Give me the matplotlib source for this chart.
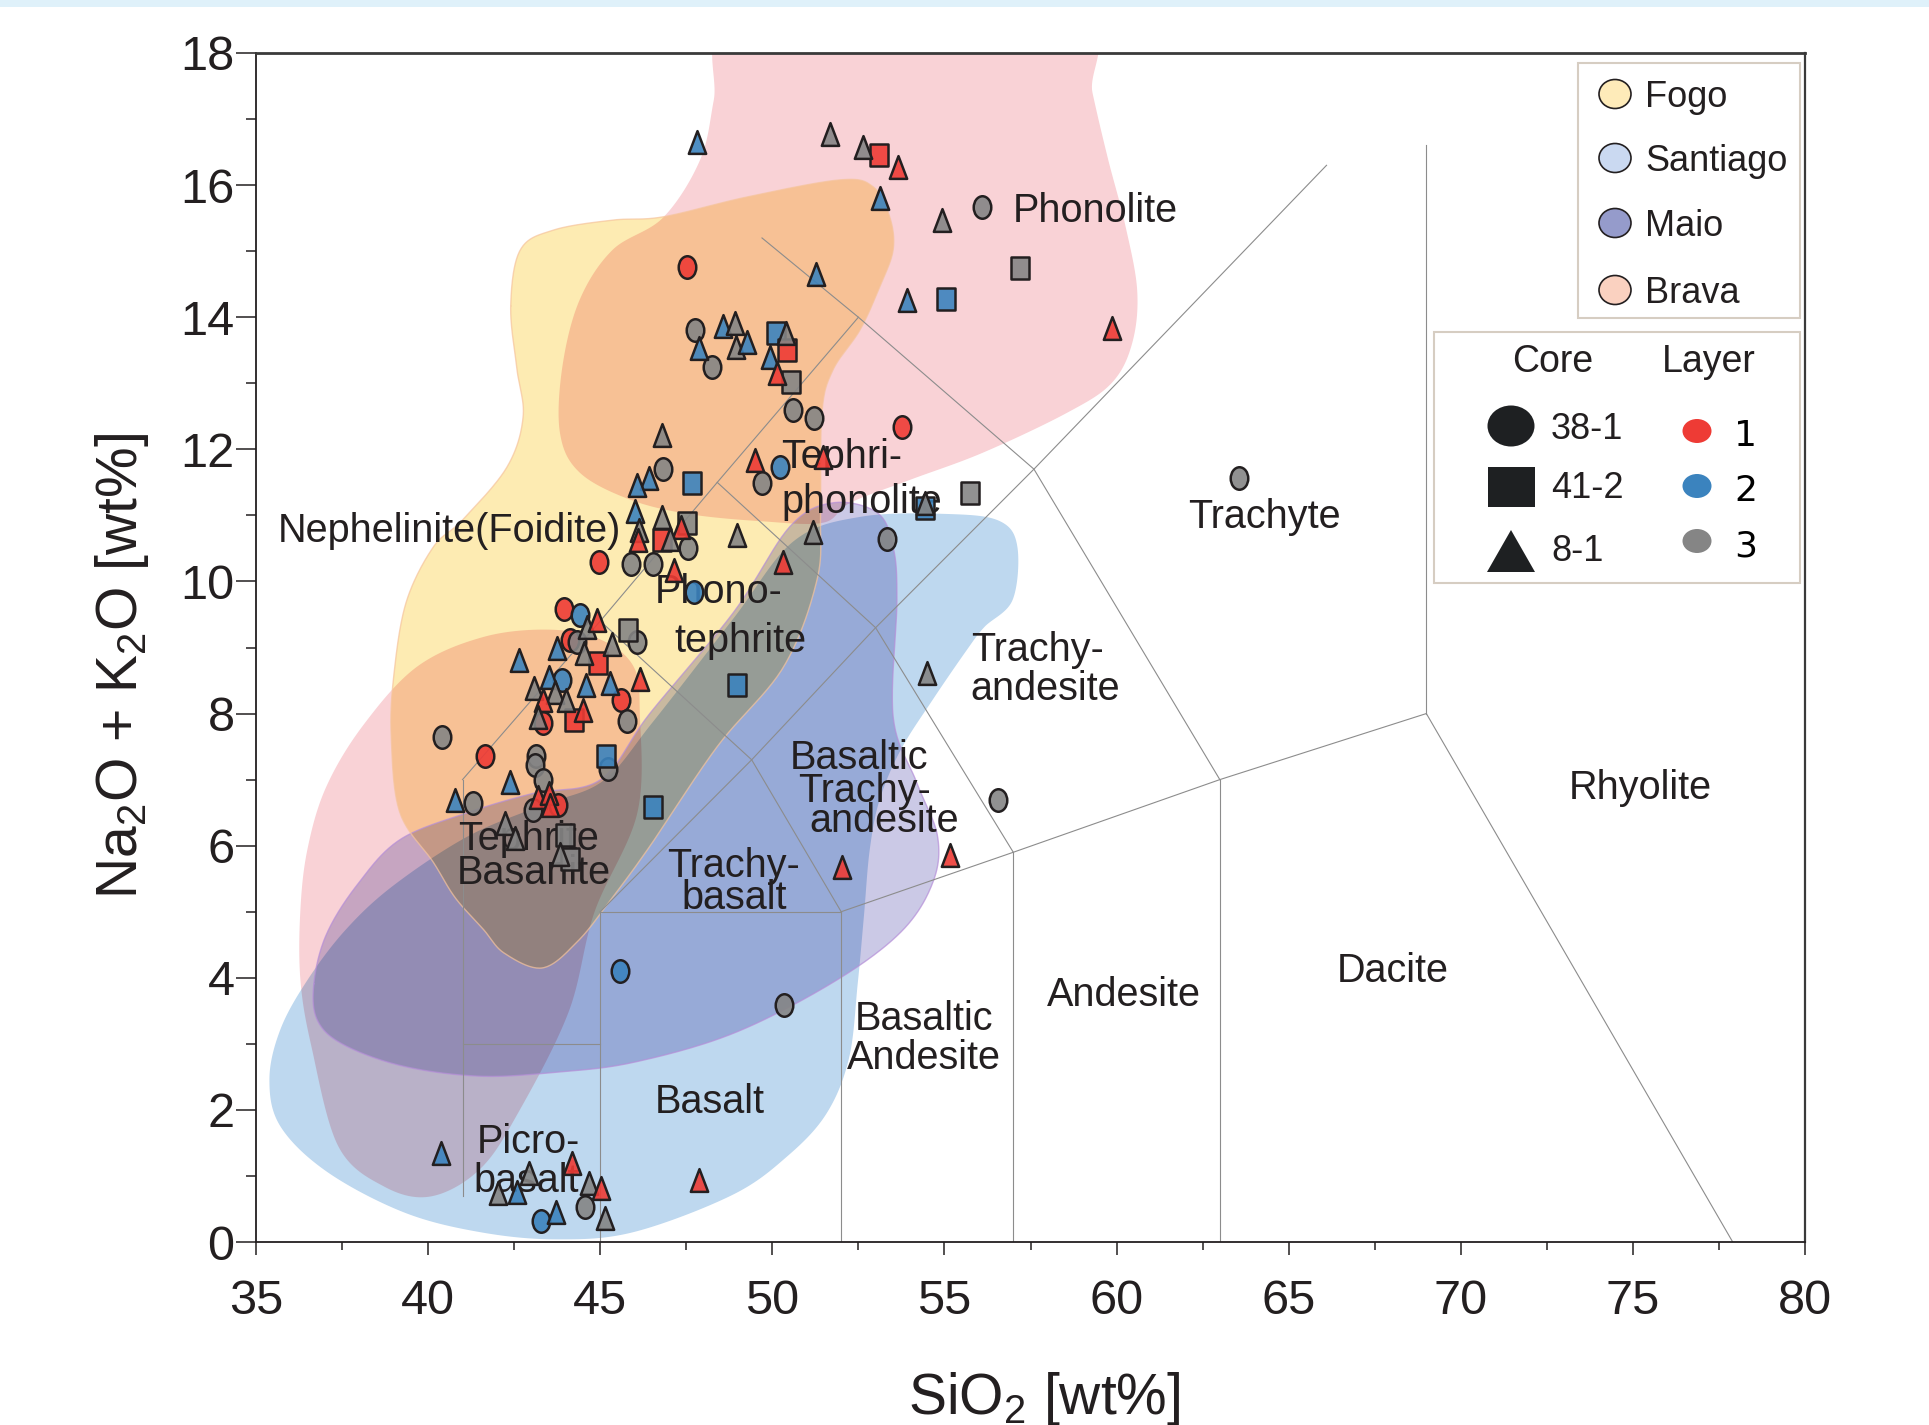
import numpy as np
import matplotlib
matplotlib.use("Agg")
import matplotlib.pyplot as plt
from matplotlib.path import Path
from matplotlib.patches import Rectangle, Ellipse, Polygon
from matplotlib.figure import Figure
from matplotlib.backends.backend_agg import FigureCanvasAgg
from matplotlib.colors import to_rgb

plt.rcParams['font.family'] = ['Liberation Sans', 'DejaVu Sans']
plt.rcParams['mathtext.fontset'] = 'custom'
plt.rcParams['mathtext.rm'] = 'Liberation Sans'
plt.rcParams['mathtext.it'] = 'Liberation Sans:italic'
plt.rcParams['mathtext.bf'] = 'Liberation Sans:bold'

# ---------------- data: samples (SiO2, Na2O+K2O, layer) ----------------
c381_x = [47.51, 47.74, 48.26, 50.59, 51.21, 46.81, 50.22, 49.69, 53.76, 56.08, 53.32, 47.56,
          44.97, 45.89, 46.52, 47.71, 43.95, 44.41, 44.12, 44.32, 46.08, 43.88, 45.59, 43.35,
          45.77, 40.40, 41.65, 43.13, 43.11, 45.24, 43.35, 41.31, 43.78, 43.04, 63.55, 56.57,
          45.58, 50.35, 44.56, 43.28]
c381_y = [14.76, 13.81, 13.25, 12.59, 12.47, 11.70, 11.74, 11.49, 12.34, 15.67, 10.65, 10.50,
          10.30, 10.26, 10.27, 9.84, 9.59, 9.49, 9.11, 9.09, 9.09, 8.51, 8.20, 7.85,
          7.89, 7.65, 7.36, 7.35, 7.22, 7.16, 6.99, 6.64, 6.62, 6.54, 11.56, 6.69,
          4.10, 3.59, 0.53, 0.32]
c381_layer = [1, 3, 3, 3, 3, 3, 2, 3, 1, 3, 3, 3,
              1, 3, 3, 2, 1, 2, 1, 3, 3, 2, 1, 1,
              3, 3, 1, 3, 3, 3, 3, 3, 1, 3, 3, 3,
              2, 3, 3, 2]

c412_x = [53.10, 50.10, 50.42, 50.54, 47.68, 57.20, 55.04, 55.74, 54.43, 47.53, 46.79, 45.82,
          44.93, 44.24, 45.17, 46.52, 48.96, 43.97, 44.12]
c412_y = [16.46, 13.76, 13.50, 13.02, 11.49, 14.75, 14.28, 11.34, 11.11, 10.88, 10.63, 9.26,
          8.76, 7.90, 7.35, 6.59, 8.43, 6.16, 5.80]
c412_layer = [1, 2, 1, 3, 2, 3, 2, 3, 2, 3, 1, 3,
              1, 1, 2, 2, 2, 3, 3]

c81_x = [47.80, 51.68, 52.63, 53.64, 53.13, 51.26, 47.88, 48.58, 48.92, 48.95, 49.26, 50.40,
         49.93, 50.13, 46.80, 46.43, 46.08, 49.50, 51.48, 54.94, 53.90, 59.86, 54.43, 51.17,
         50.32, 46.01, 46.14, 46.80, 47.35, 46.11, 47.03, 47.15, 48.96, 44.61, 44.90, 43.75,
         44.54, 45.33, 42.65, 46.17, 43.52, 44.59, 45.27, 43.08, 43.68, 44.01, 43.35, 44.51,
         43.20, 42.38, 40.78, 43.20, 43.52, 43.54, 42.23, 42.52, 43.83, 52.01, 55.16, 54.48,
         40.38, 44.19, 42.94, 42.03, 42.57, 44.67, 45.03, 47.86, 43.72, 45.14]
c81_y = [16.66, 16.78, 16.58, 16.28, 15.80, 14.66, 13.53, 13.86, 13.91, 13.55, 13.63, 13.76,
         13.40, 13.15, 12.22, 11.56, 11.46, 11.84, 11.89, 15.47, 14.26, 13.83, 11.18, 10.75,
         10.30, 11.06, 10.78, 10.98, 10.83, 10.63, 10.65, 10.17, 10.70, 9.31, 9.42, 8.99,
         8.91, 9.06, 8.81, 8.53, 8.56, 8.43, 8.46, 8.38, 8.33, 8.20, 8.20, 8.05,
         7.95, 6.97, 6.69, 6.74, 6.79, 6.62, 6.34, 6.11, 5.88, 5.68, 5.86, 8.61,
         1.34, 1.19, 1.04, 0.74, 0.76, 0.89, 0.81, 0.94, 0.46, 0.36]
c81_layer = [2, 3, 3, 1, 2, 2, 2, 2, 3, 3, 2, 3,
             2, 1, 3, 2, 2, 1, 1, 3, 2, 1, 3, 3,
             1, 2, 3, 3, 1, 1, 3, 1, 3, 3, 1, 2,
             3, 3, 2, 1, 2, 2, 2, 3, 3, 3, 1, 1,
             3, 2, 2, 1, 1, 1, 3, 3, 3, 1, 1, 3,
             2, 1, 3, 3, 2, 3, 1, 1, 2, 3]

# ---------------- island fields (outline control points) ----------------
fogo_x = [42.40, 42.68, 43.65, 45.36, 46.83, 49.26, 51.98, 52.94, 53.41, 53.51, 53.12, 52.55,
          51.76, 51.44, 51.40, 51.30, 50.33, 48.40, 46.44, 45.29, 44.36, 43.33, 42.22, 41.61,
          40.79, 40.15, 39.18, 38.93, 39.00, 39.36, 40.15, 41.00, 42.29, 42.76, 42.58]
fogo_y = [14.17, 15.02, 15.32, 15.47, 15.52, 15.82, 16.08, 15.97, 15.52, 15.02, 14.46, 13.81,
          13.20, 12.55, 11.04, 10.03, 8.71, 7.50, 5.99, 5.17, 4.56, 4.15, 4.37, 4.73,
          5.21, 5.75, 6.50, 7.63, 8.56, 9.68, 10.52, 10.93, 11.73, 12.49, 13.22]

brava_up_x = [48.65, 52.58, 58.90, 59.30, 59.75, 60.25, 60.60, 60.45, 59.85, 58.55, 56.12,
              54.01, 52.26, 51.48, 49.72, 47.58, 45.86, 44.40, 43.83, 43.90, 44.40, 45.36,
              46.83, 47.90, 48.30]
brava_up_y = [18.43, 18.52, 18.45, 17.40, 16.40, 15.40, 14.40, 13.60, 13.00, 12.55, 11.95,
              11.54, 11.19, 10.89, 10.91, 11.02, 11.24, 11.65, 12.25, 13.25, 14.26, 15.02,
              15.51, 16.38, 17.29]

brava_lo_x = [39.68, 41.61, 43.54, 45.01, 45.97, 46.15, 46.08, 44.83, 44.08, 42.61, 41.50, 40.08,
              38.72, 37.39, 36.61, 36.29, 36.29, 36.50, 37.04, 38.11]
brava_lo_y = [8.71, 9.16, 9.27, 9.12, 8.71, 8.00, 6.50, 4.99, 3.48, 1.95, 1.10, 0.69,
              0.84, 1.45, 2.96, 3.97, 5.03, 5.96, 6.89, 7.82]

maio_x = [36.68, 37.04, 37.93, 39.18, 41.15, 43.04, 45.01, 46.44, 48.87, 50.51, 51.76, 53.05,
          53.51, 53.62, 53.51, 54.19, 54.80, 54.66, 53.73, 51.76, 48.87, 45.97, 43.72, 41.50,
          39.29, 37.57, 36.79]
maio_y = [3.91, 4.65, 5.40, 6.09, 6.50, 6.79, 7.00, 8.00, 9.53, 10.83, 11.19, 11.04,
          10.52, 9.72, 7.95, 6.96, 6.14, 5.44, 4.69, 3.93, 3.16, 2.72, 2.57, 2.51,
          2.66, 2.98, 3.35]

sant_x = [37.61, 39.00, 41.15, 43.29, 45.08, 46.51, 48.87, 50.62, 52.58, 55.16, 56.62, 57.12,
          56.98, 56.16, 55.66, 54.66, 53.73, 53.12, 52.83, 52.66, 52.48, 52.23, 51.58, 50.44,
          48.83, 45.97, 43.72, 41.50, 39.29, 37.07, 35.71, 35.39, 35.71, 36.50]
sant_y = [4.73, 5.40, 6.14, 6.61, 6.98, 7.86, 9.44, 10.61, 10.98, 11.02, 10.91, 10.52,
          9.72, 9.31, 8.97, 8.21, 7.45, 6.70, 5.94, 4.93, 3.91, 2.79, 1.95, 1.30,
          0.71, 0.15, 0.04, 0.15, 0.45, 1.06, 1.75, 2.46, 3.22, 3.97]

# ---------------- TAS diagram ----------------
tas_lines = [
    [(41, 0.7), (41, 7)],
    [(41, 3), (45, 3)],
    [(45, 0), (45, 5)],
    [(45, 5), (52, 5)],
    [(52, 0), (52, 5)],
    [(57, 0), (57, 5.9)],
    [(63, 0), (63, 7)],
    [(52, 5), (57, 5.9), (63, 7), (69, 8)],
    [(69, 8), (69, 16.6)],
    [(69, 8), (77.9, 0)],
    [(41, 7), (45, 9.4), (48.4, 11.5), (52.5, 14)],
    [(45, 5), (49.4, 7.3), (53, 9.3), (57.6, 11.7), (66.1, 16.3)],
    [(45, 9.4), (49.4, 7.3), (52, 5)],
    [(48.4, 11.5), (53, 9.3), (57, 5.9)],
    [(49.7, 15.2), (52.5, 14), (57.6, 11.7), (63, 7)],
]
field_labels = [
    ("Phonolite", 59.37, 15.67), ("Tephri-", 52.01, 11.95), ("phonolite", 52.60, 11.26),
    ("Nephelinite(Foidite)", 40.61, 10.83), ("Phono-", 48.44, 9.90), ("tephrite", 49.08, 9.16),
    ("Trachy-", 57.70, 9.03), ("andesite", 57.94, 8.43), ("Trachyte", 64.31, 11.04),
    ("Basaltic", 52.51, 7.39), ("Trachy-", 52.69, 6.89), ("andesite", 53.26, 6.44),
    ("Trachy-", 48.87, 5.75), ("basalt", 48.90, 5.27), ("Tephrite", 42.93, 6.16),
    ("Basanite", 43.08, 5.64), ("Basalt", 48.19, 2.18), ("Picro-", 42.90, 1.58),
    ("basalt", 42.86, 0.99), ("Basaltic", 54.41, 3.43), ("Andesite", 54.41, 2.85),
    ("Andesite", 60.20, 3.80), ("Dacite", 68.02, 4.17), ("Rhyolite", 75.21, 6.94),
]

xticks = [35, 40, 45, 50, 55, 60, 65, 70, 75, 80]
yticks = [0, 2, 4, 6, 8, 10, 12, 14, 16, 18]
islands = ["Fogo", "Santiago", "Maio", "Brava"]
island_legend_colors = ["#FEEBB9", "#CAD9F1", "#959BCB", "#FAD1C0"]
layer_colors = {1: "#EE3B35", 2: "#3B83BE", 3: "#858585"}
cores = ["38-1", "41-2", "8-1"]
layers = ["1", "2", "3"]

# ---------------- figure ----------------
W, H = 1929, 1425
AXL, AXR, AXT, AXB = 256, 1805, 53, 1242
fig = plt.figure(figsize=(W / 100, H / 100), dpi=100)
ax = fig.add_axes([AXL / W, (H - AXB) / H, (AXR - AXL) / W, (AXB - AXT) / H])
ax.set_xlim(35, 80)
ax.set_ylim(0, 18)


def smooth_closed(xs, ys, n=24):
    P = np.column_stack([xs, ys]).astype(float)
    N = len(P)
    t = np.linspace(0, 1, n, endpoint=False)[:, None]
    out = []
    for i in range(N):
        p0, p1, p2, p3 = P[i - 1], P[i], P[(i + 1) % N], P[(i + 2) % N]
        out.append(0.5 * ((2 * p1) + (-p0 + p2) * t + (2 * p0 - 5 * p1 + 4 * p2 - p3) * t ** 2
                          + (-p0 + 3 * p1 - 3 * p2 + p3) * t ** 3))
    c = np.vstack(out)
    return np.vstack([c, c[:1]])


AW, AH = AXR - AXL, AXB - AXT


def coverage(curve):
    f = Figure(figsize=(AW / 100, AH / 100), dpi=100)
    cv = FigureCanvasAgg(f)
    a = f.add_axes([0, 0, 1, 1])
    a.set_axis_off()
    a.set_xlim(35, 80)
    a.set_ylim(0, 18)
    a.fill(curve[:, 0], curve[:, 1], color='black', lw=0)
    cv.draw()
    buf = np.asarray(cv.buffer_rgba())[:, :, 0].astype(float) / 255.0
    return 1.0 - buf


fields = [
    (sant_x, sant_y, "#BED8EF", None),
    (maio_x, maio_y, "#CBC9E6", "#B58ED8"),
    (brava_lo_x, brava_lo_y, "#F9D2D6", None),
    (brava_up_x, brava_up_y, "#F9D2D6", None),
    (fogo_x, fogo_y, "#FDEBB2", "#F6C49C"),
]
img = None
for fx, fy, col, ecol in fields:
    cur = smooth_closed(fx, fy)
    cov = coverage(cur)
    if img is None:
        img = np.ones(cov.shape + (3,))
    img *= 1.0 - cov[..., None] * (1.0 - np.array(to_rgb(col)))[None, None, :]
    if ecol:
        ax.plot(cur[:, 0], cur[:, 1], color=ecol, lw=1.0, alpha=0.7, zorder=1)
ax.imshow(img, extent=(35, 80, 0, 18), origin='upper', aspect='auto',
          interpolation='nearest', zorder=0)

for ln in tas_lines:
    a = np.array(ln)
    ax.plot(a[:, 0], a[:, 1], color='#8C8C8C', lw=0.8, zorder=2)

for txt, x, y in field_labels:
    ax.text(x, y, txt, fontsize=28.5, color='#231F20', ha='center', va='center_baseline', zorder=3)

# markers
circ = Path.unit_circle()
ell_path = Path(circ.vertices * np.array([0.78, 1.0]), circ.codes)
sq_path = Path([(-0.8, -1), (0.8, -1), (0.8, 1), (-0.8, 1), (-0.8, -1)],
               [Path.MOVETO, Path.LINETO, Path.LINETO, Path.LINETO, Path.CLOSEPOLY])
tri_path = Path([(0, 1), (-0.76, -1), (0.76, -1), (0, 1)],
                [Path.MOVETO, Path.LINETO, Path.LINETO, Path.CLOSEPOLY])

groups = [(c381_x, c381_y, c381_layer, ell_path, 16.2),
          (c412_x, c412_y, c412_layer, sq_path, 15.7),
          (c81_x, c81_y, c81_layer, tri_path, 16.4)]
for gx, gy, gl, mk, ms in groups:
    for x, y, l in zip(gx, gy, gl):
        r, g, b = to_rgb(layer_colors[l])
        ax.plot([x], [y], ls='none', marker=mk, ms=ms, mfc=(r, g, b, 0.9),
                mec='#231F20', mew=1.8, zorder=4, clip_on=False)

ax.set_xticks(xticks)
ax.set_xticklabels([str(v) for v in xticks])
ax.set_xticks(np.arange(37.5, 80, 5), minor=True)
ax.set_yticks(yticks)
ax.set_yticklabels([str(v) for v in yticks])
ax.set_yticks(np.arange(1, 18, 2), minor=True)
ax.tick_params(axis='x', which='major', length=9.4, width=1.1, pad=17, labelsize=35,
               colors='#231F20')
ax.tick_params(axis='x', which='minor', length=5.8, width=1.1, colors='#231F20')
ax.tick_params(axis='y', which='major', length=14.4, width=1.1, pad=1, labelsize=35,
               colors='#231F20')
ax.tick_params(axis='y', which='minor', length=7.2, width=1.1, colors='#231F20')
for s in ax.spines.values():
    s.set_color('#231F20')
    s.set_linewidth(1.3)
ax.spines['top'].set_color('#3A3A3A')
ax.spines['top'].set_linewidth(2.0)
ax.spines['right'].set_color('#3A3A3A')
ax.spines['right'].set_linewidth(1.6)

# ---------------- overlay (pixel coordinates) ----------------
ov = fig.add_axes([0, 0, 1, 1], zorder=10)
ov.set_xlim(0, W)
ov.set_ylim(H, 0)
ov.axis('off')
ov.patch.set_alpha(0)

ov.add_patch(Rectangle((0, 0), W, 7, color='#DFF1FA', lw=0))

ov.text(137, 666, r'Na$_{\mathregular{2}}$O + K$_{\mathregular{2}}$O [wt%]', fontsize=41,
        rotation=90, rotation_mode='anchor', ha='center', va='baseline', color='#231F20')
ov.text(1044, 1414, r'SiO$_{\mathregular{2}}$ [wt%]', fontsize=41,
        ha='center', va='baseline', color='#231F20')

# island legend
ov.add_patch(Rectangle((1578, 63), 222, 255, fc='white', ec='#D6CDC2', lw=1.5))
for i, (nm, col) in enumerate(zip(islands, island_legend_colors)):
    cy = [94, 158, 223, 290][i]
    ov.add_patch(Ellipse((1615, cy), 32, 29, fc=col, ec='#231F20', lw=1.2))
    ov.text(1645, cy + 13, nm, fontsize=26, ha='left', va='baseline', color='#231F20')

# core / layer legend
ov.add_patch(Rectangle((1434, 332), 366, 251, fc='white', ec='#D6CDC2', lw=1.5))
ov.text(1553, 372, "Core", fontsize=27, ha='center', va='baseline', color='#231F20')
ov.text(1709, 372, "Layer", fontsize=27, ha='center', va='baseline', color='#231F20')
ov.add_patch(Ellipse((1511, 426), 47, 41, fc='#1E2022', ec='none'))
ov.add_patch(Rectangle((1488, 467), 47, 40, fc='#1E2022', ec='none'))
ov.add_patch(Polygon([(1511, 530), (1487, 572), (1535, 572)], closed=True, fc='#1E2022', ec='none'))
for nm, by in zip(cores, [439, 498, 561]):
    ov.text(1551, by, nm, fontsize=26, ha='left', va='baseline', color='#231F20')
for lv, cy, by in zip(layers, [431, 486, 541], [446, 501, 556]):
    ov.add_patch(Ellipse((1697, cy), 29, 24, fc=layer_colors[int(lv)], ec='none'))
    ov.text(1734, by, lv, fontsize=26, ha='left', va='baseline', color='black',
            family='DejaVu Sans')

fig.savefig('out.png', dpi=100)
